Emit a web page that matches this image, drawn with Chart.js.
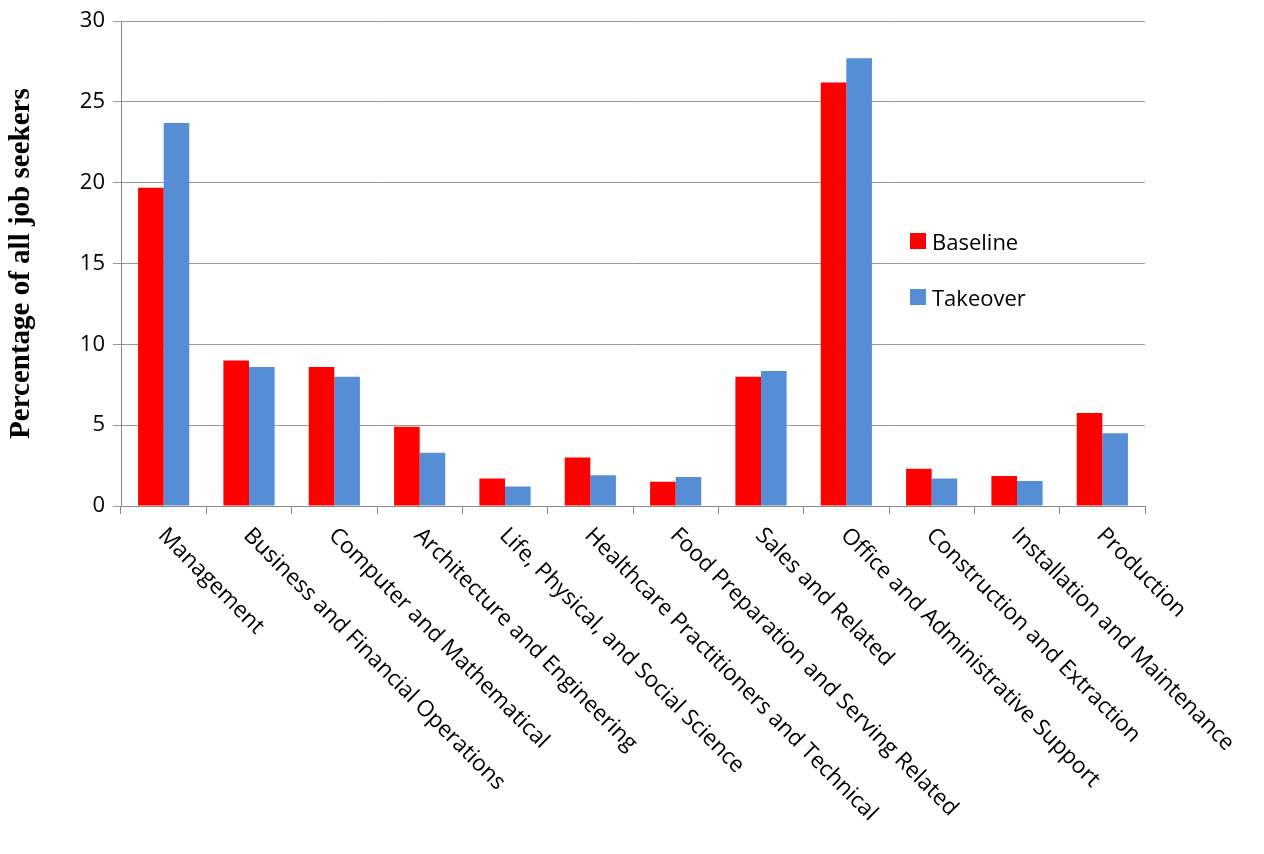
<!DOCTYPE html>
<html>
<head>
<meta charset="utf-8">
<script src="https://cdn.jsdelivr.net/npm/chart.js@4"></script>
<style>
  body { margin: 0; background: #fff; }
  #wrap { position: relative; width: 1264px; height: 854px; }
  .leg { position: absolute; font: 22px "Open Sans", sans-serif; color: #000; display: flex; align-items: center; }
  .leg i { display: inline-block; width: 16px; height: 16px; margin-right: 6px; }
</style>
</head>
<body>
<div id="wrap">
  <canvas id="c" width="1264" height="854"></canvas>
  <div class="leg" style="left:910px;top:226px"><i style="background:#ff0000"></i>Baseline</div>
  <div class="leg" style="left:910px;top:282px"><i style="background:#558ed5"></i>Takeover</div>
</div>
<script>
// occupation groups along the x axis
const categories = ['Management', 'Business and Financial Operations', 'Computer and Mathematical',
  'Architecture and Engineering', 'Life, Physical, and Social Science', 'Healthcare Practitioners and Technical',
  'Food Preparation and Serving Related', 'Sales and Related', 'Office and Administrative Support',
  'Construction and Extraction', 'Installation and Maintenance', 'Production'];
const baseline = [19.7, 9.0, 8.6, 4.9, 1.7, 3.0, 1.5, 8.0, 26.2, 2.3, 1.85, 5.75];
const takeover = [23.7, 8.6, 8.0, 3.3, 1.2, 1.9, 1.8, 8.35, 27.7, 1.7, 1.55, 4.5];

// draw category names slanted down-right from each tick
const slantLabels = {
  id: 'slantLabels',
  afterDraw(chart) {
    const x = chart.scales.x, ctx = chart.ctx;
    ctx.save();
    ctx.font = '22.5px "Open Sans", sans-serif';
    ctx.fillStyle = '#000';
    ctx.textAlign = 'left';
    ctx.textBaseline = 'middle';
    categories.forEach((name, i) => {
      ctx.save();
      ctx.translate(x.getPixelForValue(i) - 2, x.top + 26);
      ctx.rotate(Math.PI / 4);
      ctx.fillText(name, 0, 0);
      ctx.restore();
    });
    ctx.restore();
  }
};

new Chart(document.getElementById('c'), {
  type: 'bar',
  data: {
    labels: categories,
    datasets: [
      { label: 'Baseline', data: baseline, backgroundColor: '#ff0000' },
      { label: 'Takeover', data: takeover, backgroundColor: '#558ed5' }
    ]
  },
  options: {
    responsive: false,
    animation: false,
    layout: { padding: { top: 10, right: 119, left: 2 } },
    datasets: { bar: { categoryPercentage: 0.6, barPercentage: 1.0 } },
    plugins: { legend: { display: false }, tooltip: { enabled: false } },
    scales: {
      x: {
        afterFit: s => { s.height = 348; },
        ticks: { display: false },
        grid: { offset: true, drawOnChartArea: false, tickLength: 8, color: '#888' },
        border: { color: '#888' }
      },
      y: {
        min: 0, max: 30,
        afterFit: s => { s.width = 119; },
        ticks: { stepSize: 5, color: '#000', font: { size: 22, family: '"Open Sans", sans-serif' }, padding: 8 },
        grid: { color: '#999', tickLength: 8 },
        border: { color: '#888' },
        title: { display: true, text: 'Percentage of all job seekers', color: '#000', padding: 2,
          font: { size: 29, weight: 'bold', family: '"Liberation Serif", serif' } }
      }
    }
  },
  plugins: [slantLabels]
});
</script>
</body>
</html>
